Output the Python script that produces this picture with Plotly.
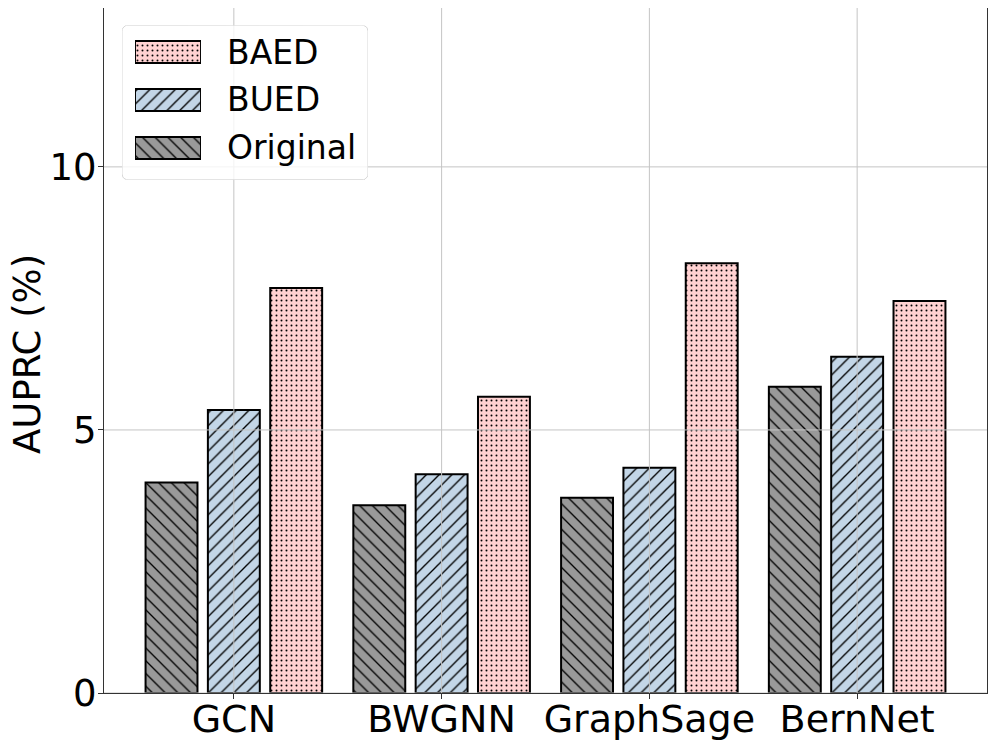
import numpy as np
import plotly.graph_objects as go

categories = ["GCN", "BWGNN", "GraphSage", "BernNet"]
original = [4.0, 3.57, 3.71, 5.82]
bued = [5.38, 4.16, 4.28, 6.39]
baed = [7.70, 5.63, 8.17, 7.45]
y_ticks = [0, 5, 10]

series_names = ["Original", "BUED", "BAED"]
series_vals = [original, bued, baed]
series_colors = ["#999999", "#c3d6e7", "#ffd1d1"]
series_shapes = ["\\", "/", "."]

X_RANGE = [-0.625, 3.625]
Y_RANGE = [0, 13.02]
xpos = list(range(len(categories)))

def pattern(shp, col):
    return dict(shape=shp, fgcolor="black", bgcolor=col,
                size=9 if shp != "." else 5,
                solidity=0.15 if shp != "." else 0.12, fillmode="replace")

fig = go.Figure()
# main bars
for name, vals, col, shp in zip(series_names, series_vals, series_colors, series_shapes):
    fig.add_trace(go.Bar(
        x=xpos, y=vals, name=name, showlegend=False,
        marker=dict(color=col, line=dict(color="black", width=2), pattern=pattern(shp, col)),
    ))

# grid lines drawn above the bars (as in the reference)
grid_col = "#c4c4c4"
gx, gy = [], []
for i in xpos:
    gx += [i, i, None]
    gy += [Y_RANGE[0], Y_RANGE[1], None]
for v in y_ticks:
    gx += [X_RANGE[0], X_RANGE[1], None]
    gy += [v, v, None]
fig.add_trace(go.Scatter(x=gx, y=gy, mode="lines", line=dict(color=grid_col, width=1),
                         hoverinfo="skip", showlegend=False, cliponaxis=True))

# legend box (subplot 2)
r = 6.0
bw, bh = 246.0, 155.0
pts = []
for cx, cy, a0 in [(bw - r, bh - r, 0), (r, bh - r, 90), (r, r, 180), (bw - r, r, 270)]:
    for a in np.linspace(a0, a0 + 90, 7):
        pts.append((cx + r * np.cos(np.radians(a)), cy + r * np.sin(np.radians(a))))
pts.append(pts[0])
fig.add_trace(go.Scatter(
    x=[p[0] / bw for p in pts], y=[p[1] / bh for p in pts],
    xaxis="x2", yaxis="y2", mode="lines", fill="toself",
    fillcolor="rgba(255,255,255,0.8)", line=dict(color="#d6d6d6", width=1),
    hoverinfo="skip", showlegend=False, cliponaxis=False,
))

# legend swatches (subplot 3)
for name, col, shp in zip(series_names, series_colors, series_shapes):
    fig.add_trace(go.Bar(
        y=[name], x=[1], orientation="h", width=0.46, offset=-0.23,
        xaxis="x3", yaxis="y3", showlegend=False, hoverinfo="skip", cliponaxis=False,
        marker=dict(color=col, line=dict(color="black", width=2), pattern=pattern(shp, col)),
    ))

font = "DejaVu Sans"
annotations = [
    dict(x=0.137, xref="paper", y=n, yref="y3", text=n, showarrow=False,
         xanchor="left", yanchor="middle", font=dict(size=33, family=font, color="black"))
    for n in series_names
]
annotations.append(dict(
    x=-0.086, xref="paper", y=0.495, yref="paper", text="AUPRC (%)", textangle=-90,
    showarrow=False, xanchor="center", yanchor="middle", borderpad=0,
    font=dict(size=37, family=font, color="black"),
))

fig.update_layout(
    width=988, height=739,
    margin=dict(l=96, r=9, t=0, b=54),
    paper_bgcolor="white", plot_bgcolor="rgba(0,0,0,0)",
    barmode="group", bargap=0.1, bargroupgap=0.167,
    font=dict(family=font, color="black", size=38),
    showlegend=False,
    annotations=annotations,
    xaxis=dict(
        range=X_RANGE, automargin=False,
        tickvals=xpos, ticktext=categories,
        showgrid=False, zeroline=False,
        showline=True, linecolor="#333333", linewidth=1, mirror=True,
        ticks="outside", ticklen=5, tickcolor="#333333",
        tickfont=dict(size=38, family=font), ticklabelstandoff=-13,
    ),
    yaxis=dict(
        range=Y_RANGE, automargin=False,
        tickvals=y_ticks,
        showgrid=False, zeroline=False,
        showline=True, linecolor="#333333", linewidth=1, mirror=True,
        ticks="outside", ticklen=5, tickcolor="#333333",
        tickfont=dict(size=37, family=font), ticklabelstandoff=-6,
    ),
    xaxis2=dict(domain=[0.0204, 0.299], range=[0, 1], visible=False, fixedrange=True),
    yaxis2=dict(domain=[0.749, 0.975], range=[0, 1], visible=False, fixedrange=True),
    xaxis3=dict(domain=[0.0351, 0.1099], range=[0, 1], visible=False, fixedrange=True),
    yaxis3=dict(domain=[0.7606, 0.9708], visible=False, fixedrange=True,
                categoryorder="array", categoryarray=series_names, range=[-0.5, 2.5]),
)

fig.write_html("out.html")
